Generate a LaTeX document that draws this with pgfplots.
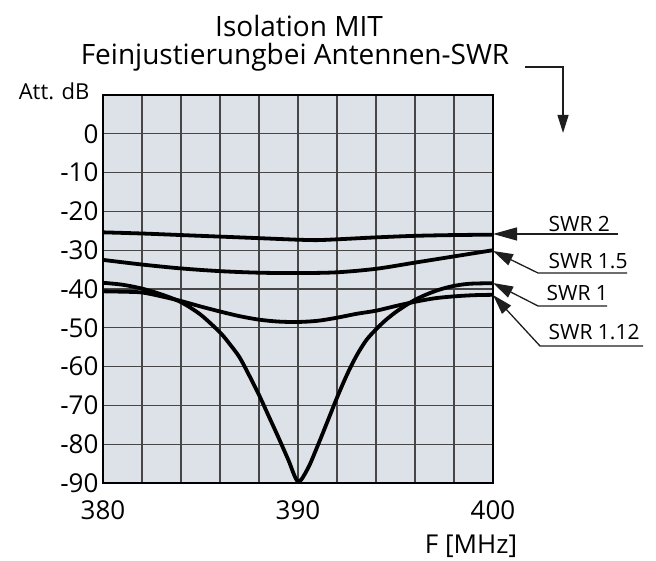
\documentclass[border=0pt]{standalone}
\usepackage{fontspec}
\setmainfont{Open Sans}
\usepackage{pgfplots}
\pgfplotsset{compat=1.18}
\usetikzlibrary{arrows.meta}
\definecolor{bg}{RGB}{221,225,232}
\definecolor{gridc}{RGB}{70,70,70}
\definecolor{annc}{RGB}{30,30,30}
\begin{document}
\begin{tikzpicture}
\begin{axis}[
 width=390pt, height=388pt, scale only axis,
 xmin=380, xmax=400, ymin=-90, ymax=10,
 xtick={380,390,400}, xticklabels={380,390,400},
 minor xtick={382,384,386,388,392,394,396,398},
 ytick={-90,-80,-70,-60,-50,-40,-30,-20,-10,0},
 yticklabels={-90,-80,-70,-60,-50,-40,-30,-20,-10,0},
 grid=both,
 major grid style={gridc, line width=1.3pt},
 minor grid style={gridc, line width=1.3pt},
 axis line style={black, line width=1.8pt},
 major tick length=0pt, minor tick length=0pt,
 axis background/.style={fill=bg},
 clip=false,
 ticklabel style={font=\fontsize{26}{30}\selectfont, text=black},
 xticklabel style={yshift=-14pt},
 yticklabel style={xshift=-1pt},
]
\path (rel axis cs:-0.2641,-0.1959) rectangle (rel axis cs:1.4179,1.2448);
% SWR 2
\addplot[black, line width=3.8pt, smooth] coordinates {
(380,-25.4) (382,-25.7) (384,-26.1) (386,-26.5) (388,-26.9) (390,-27.3) (391,-27.4) (392,-27.2) (394,-26.7) (396,-26.3) (398,-26.1) (400,-26.0)};
% SWR 1.5
\addplot[black, line width=3.8pt, smooth] coordinates {
(380,-32.5) (382,-33.7) (384,-34.7) (386,-35.4) (388,-35.8) (390,-35.9) (392,-35.7) (394,-34.8) (396,-33.2) (398,-31.6) (400,-30.0)};
% SWR 1
\addplot[black, line width=3.8pt, smooth] coordinates {
(380,-38.4) (381,-38.9) (382,-39.9) (383,-41.4) (384,-43.4) (385,-46.6) (386,-51.2) (386.5,-54.2) (387,-57.6) (387.5,-62.3) (388,-67.3) (388.5,-72.8) (389,-78.3) (389.5,-84.0) (390,-89.6) (390.5,-86.3) (391,-80.5) (391.5,-74.3) (392,-68.0) (392.5,-62.2) (393,-57.2) (393.5,-53.2) (394,-50.4) (394.5,-48.0) (395,-46.0) (395.5,-44.3) (396,-42.8) (396.5,-41.6) (397,-40.6) (397.5,-39.8) (398,-39.2) (398.5,-38.8) (399,-38.6) (400,-38.5)};
% SWR 1.12
\addplot[black, line width=3.8pt, smooth] coordinates {
(380,-40.6) (381,-40.7) (382,-40.9) (383,-41.9) (384,-43.1) (385,-44.5) (386,-45.8) (387,-47.0) (388,-47.9) (389,-48.4) (390,-48.5) (391,-48.2) (392,-47.4) (393,-46.4) (394,-45.6) (395,-44.4) (396,-43.3) (397,-42.4) (398,-41.9) (399,-41.6) (400,-41.5)};
% annotations
\draw[annc, line width=1.3pt, -{Triangle[length=24pt,width=13pt]}] (rel axis cs:1.3205,0.6418) -- (rel axis cs:1.0,0.6418);
\draw[annc, line width=1.3pt, -{Triangle[length=20pt,width=12pt]}] (rel axis cs:1.3436,0.5412) -- (rel axis cs:1.1154,0.5412) -- (rel axis cs:1.0,0.598);
\draw[annc, line width=1.3pt, -{Triangle[length=20pt,width=12pt]}] (rel axis cs:1.2923,0.4562) -- (rel axis cs:1.1154,0.4562) -- (rel axis cs:1.0,0.5155);
\draw[annc, line width=1.3pt, -{Triangle[length=20pt,width=12pt]}] (rel axis cs:1.3846,0.3531) -- (rel axis cs:1.1205,0.3531) -- (rel axis cs:1.0,0.4845);
\node[anchor=base west, font=\fontsize{21}{24}\selectfont, text=black] at (rel axis cs:1.1333,0.6469) {SWR 2};
\node[anchor=base west, font=\fontsize{21}{24}\selectfont, text=black] at (rel axis cs:1.1333,0.5541) {SWR 1.5};
\node[anchor=base west, font=\fontsize{21}{24}\selectfont, text=black] at (rel axis cs:1.1282,0.4716) {SWR 1};
\node[anchor=base west, font=\fontsize{21}{24}\selectfont, text=black] at (rel axis cs:1.1333,0.3686) {SWR 1.12};
% titles
\node[anchor=base, font=\fontsize{28}{32}\selectfont, text=black] at (rel axis cs:0.5026,1.1495) {Isolation MIT};
\node[anchor=base, font=\fontsize{28}{32}\selectfont, text=black] at (rel axis cs:0.4923,1.0773) {Feinjustierungbei Antennen-SWR};
\draw[annc, line width=1.3pt, -{Triangle[length=18pt,width=11pt]}] (rel axis cs:1.0821,1.0722) -- (rel axis cs:1.1795,1.0722) -- (rel axis cs:1.1795,0.9021);
\node[anchor=base east, font=\fontsize{22}{26}\selectfont, text=black] at (rel axis cs:-0.0256,0.9871) {Att. dB};
\node[anchor=base, font=\fontsize{26}{30}\selectfont, text=black] at (rel axis cs:0.9436,-0.1804) {F [MHz]};
\end{axis}
\end{tikzpicture}
\end{document}
